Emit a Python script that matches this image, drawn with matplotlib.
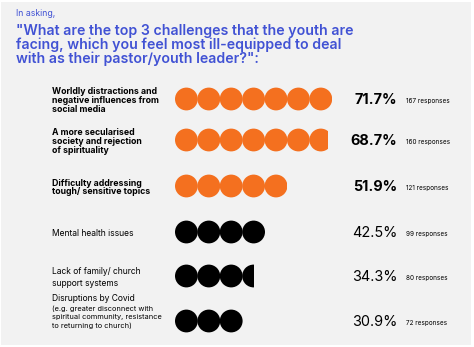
import matplotlib.pyplot as plt
from matplotlib.patches import Circle, Rectangle

# --- data ---
labels = [
    "Worldly distractions and\nnegative influences from\nsocial media",
    "A more secularised\nsociety and rejection\nof spirituality",
    "Difficulty addressing\ntough/ sensitive topics",
    "Mental health issues",
    "Lack of family/ church\nsupport systems",
    "Disruptions by Covid",
]
sublabels = ["", "", "", "", "",
             "(e.g. greater disconnect with\nspiritual community, resistance\nto returning to church)"]
percents = [71.7, 68.7, 51.9, 42.5, 34.3, 30.9]
responses = [167, 160, 121, 99, 80, 72]
icons = [7, 6.8, 5, 4, 3.5, 3]          # circles drawn per row
highlight = [True, True, True, False, False, False]

ORANGE = '#f4701f'
BLACK = '#000000'
BLUE = '#4152d4'
BG = '#f2f2f2'
FONT = ['Inter', 'DejaVu Sans']

plt.rcParams['font.family'] = FONT

fig = plt.figure(figsize=(4.74, 3.47), dpi=100)
fig.patch.set_facecolor('white')
ax = fig.add_axes([0, 0, 1, 1])
ax.set_xlim(0, 474)
ax.set_ylim(347, 0)
ax.axis('off')

ax.add_patch(Rectangle((1.5, 1.5), 470, 343, facecolor=BG, edgecolor='none'))

# heading
ax.text(16, 13, "In asking,", color=BLUE, fontsize=6.3, va='center')
ax.text(16, 45, '"What are the top 3 challenges that the youth are\n'
        'facing, which you feel most ill-equipped to deal\n'
        'with as their pastor/youth leader?":',
        color=BLUE, fontsize=10.2, fontweight='semibold', va='center', linespacing=0.98)

row_y = [99, 140, 186, 232, 276, 321]
x0 = 175
step = 22.4
diam = 22.8

for i, y in enumerate(row_y):
    bold = highlight[i]
    color = ORANGE if bold else BLACK
    weight = 'bold' if bold else 'normal'

    # label block
    if sublabels[i]:
        ax.text(52.5, y - 22.5, labels[i], fontsize=6.1, fontweight=weight,
                va='center', ha='left')
        ax.text(52.5, y - 3.5, sublabels[i], fontsize=5.3, va='center', ha='left',
                linespacing=1.4)
    elif bold:
        ax.text(52.5, y + 1.5, labels[i], fontsize=6.3, fontweight=weight,
                va='center', ha='left', linespacing=0.97)
    else:
        ax.text(52.5, y + 1.5, labels[i], fontsize=6.1, fontweight=weight,
                va='center', ha='left', linespacing=1.55)

    # circle icons, last one clipped for the fractional part
    n = icons[i]
    full = int(n)
    frac = n - full
    count = full + (1 if frac > 0 else 0)
    clip = Rectangle((x0, y - diam), (n - 1) * step + diam if frac == 0
                     else full * step + frac * diam, 2 * diam, transform=ax.transData)
    for k in range(count):
        c = Circle((x0 + diam / 2 + k * step, y), diam / 2, facecolor=color,
                   edgecolor='none')
        ax.add_patch(c)
        c.set_clip_path(clip)

    # values
    ax.text(397.5, y + 1, f"{percents[i]}%", fontsize=10.4, fontweight=weight,
            ha='right', va='center')
    ax.text(406, y + 2, f"{responses[i]} responses", fontsize=4.6,
            ha='left', va='center')

fig.savefig('out.png', dpi=100, facecolor=fig.get_facecolor())
